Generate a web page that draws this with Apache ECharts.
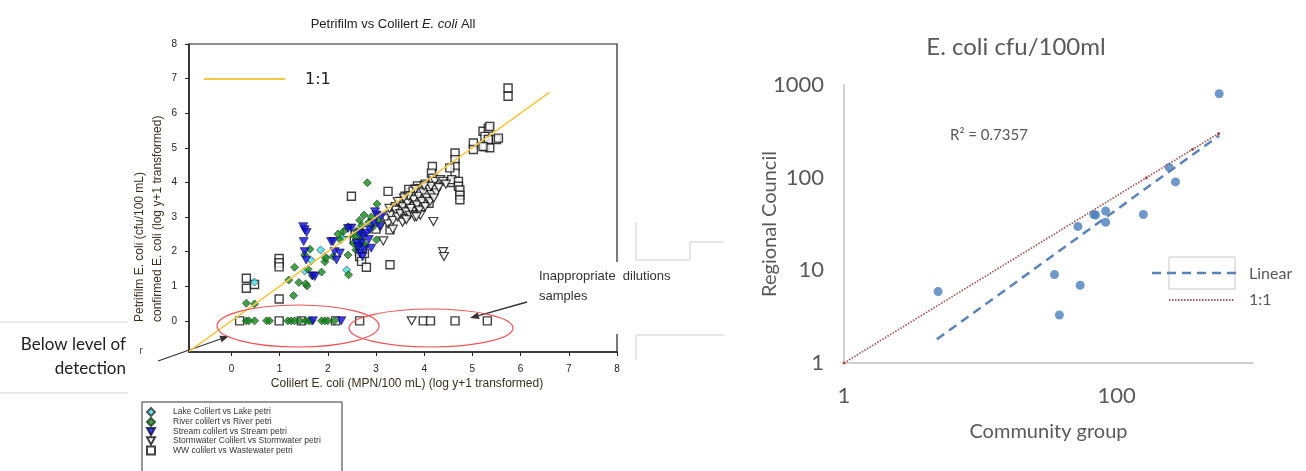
<!DOCTYPE html>
<html>
<head>
<meta charset="utf-8">
<script src="https://cdn.jsdelivr.net/npm/echarts@6/dist/echarts.min.js"></script>
<style>
  html, body { margin: 0; padding: 0; background: #fff; }
  #chart { width: 1306px; height: 471px; }
</style>
</head>
<body>
<div id="chart"></div>
<script>
// ---- left panel: Petrifilm vs Colilert (log y+1) ----
const lakePts = [
  [0.48, 1.12], [1.52, 1.44], [1.66, 1.74], [1.85, 2.05], [1.94, 1.86],
  [2.39, 1.47], [2.66, 2.48], [2.30, 2.40]
];
const riverPts = [
  [0.31, 0.51], [0.48, 0.49], [1.19, 1.18], [1.29, 0.73], [1.31, 1.55], [1.40, 1.11],
  [1.57, 1.01], [1.54, 1.07], [1.59, 1.49], [1.52, 1.91], [1.63, 2.07], [1.68, 1.30],
  [1.87, 1.41], [1.94, 1.71], [1.96, 1.81], [2.11, 1.86], [2.21, 2.51], [2.32, 2.58],
  [2.26, 2.34], [2.42, 1.90], [2.43, 1.33], [2.42, 2.72], [2.53, 2.24], [2.66, 2.91],
  [2.75, 3.06], [2.82, 3.99], [2.94, 2.72], [3.01, 2.34], [3.02, 3.38], [2.60, 2.60],
  [2.70, 2.75], [2.85, 2.85], [2.55, 2.45], [2.68, 2.35], [2.78, 2.20], [2.72, 2.55],
  [2.90, 3.00], [2.58, 2.05], [3.05, 2.90], [2.62, 2.15],
  [0.31, 0], [0.48, 0], [0.36, 0], [0.73, 0], [0.79, 0], [1.17, 0], [1.24, 0], [1.31, 0],
  [1.42, 0], [1.54, 0], [1.61, 0], [1.66, 0], [1.87, 0], [1.94, 0], [2.00, 0], [2.14, 0]
];
const streamPts = [
  [1.49, 2.72], [1.52, 2.63], [1.56, 2.55], [1.50, 2.29], [1.52, 2.00], [1.55, 1.76],
  [1.68, 1.30], [1.73, 1.28], [2.07, 2.29], [2.14, 2.00], [2.18, 1.76], [2.11, 2.29],
  [2.25, 1.96], [2.49, 2.68], [2.73, 2.44], [2.70, 2.25], [2.66, 1.96], [2.94, 2.82],
  [3.11, 3.01], [2.66, 2.53], [2.80, 2.53], [2.87, 2.63], [2.60, 2.24], [2.63, 2.14],
  [2.98, 3.15], [3.01, 3.06], [2.42, 2.67], [3.08, 2.72], [2.75, 2.05], [2.72, 1.85],
  [2.85, 2.35], [2.90, 2.10],
  [1.69, 0], [2.28, 0]
];
const stormPts = [
  [3.15, 2.31], [4.19, 2.87], [4.39, 2.00], [4.41, 1.86], [3.74, 0],
  [3.10, 2.75], [3.20, 2.95], [3.25, 2.80], [3.30, 3.05], [3.35, 2.90], [3.40, 3.20],
  [3.45, 3.00], [3.50, 3.10], [3.55, 3.30], [3.60, 2.95], [3.62, 3.15], [3.65, 3.40],
  [3.70, 3.05], [3.72, 3.25], [3.78, 3.50], [3.80, 3.00], [3.85, 3.35], [3.88, 3.60],
  [3.90, 3.20], [3.95, 3.45], [3.98, 3.70], [4.02, 3.30], [4.05, 3.55], [4.10, 3.80],
  [4.12, 3.45], [4.15, 3.65], [4.22, 4.03], [4.33, 4.08], [4.39, 4.03], [4.14, 3.89],
  [4.25, 3.70], [4.30, 3.85], [4.45, 3.95], [3.35, 2.65], [3.55, 2.85], [3.45, 3.45],
  [3.68, 3.60], [3.92, 3.05], [4.00, 3.90], [3.28, 3.25], [3.58, 3.55], [3.82, 3.80],
  [4.20, 3.55], [3.63, 2.92], [3.84, 3.01]
];
const wwPts = [
  [0.31, 1.23], [0.31, 0.94], [0.48, 1.05], [0.99, 1.80], [0.99, 1.68], [0.99, 1.56],
  [0.99, 0.63], [2.49, 3.60], [2.66, 2.00], [2.66, 1.86], [2.70, 1.72], [2.80, 1.55],
  [3.29, 1.62], [3.29, 2.63], [3.25, 3.74], [2.40, 2.55], [2.55, 2.35], [3.00, 2.65],
  [2.62, 2.50], [2.76, 1.95], [2.72, 2.10],
  [3.40, 3.30], [3.50, 3.45], [3.55, 3.20], [3.60, 3.60], [3.65, 3.35], [3.70, 3.50],
  [3.72, 3.70], [3.75, 3.40], [3.78, 3.60], [3.80, 3.80], [3.82, 3.30], [3.85, 3.55],
  [3.88, 3.70], [3.90, 3.45], [3.92, 3.85], [3.95, 3.60], [3.98, 3.75], [4.00, 3.50],
  [4.02, 3.95], [4.05, 3.65], [4.08, 3.80], [4.10, 3.40], [3.68, 3.80], [3.58, 3.45],
  [3.62, 3.25], [3.76, 3.20], [3.86, 3.90], [3.94, 3.30],
  [3.66, 3.55], [3.71, 3.62], [3.74, 3.30], [3.79, 3.45], [3.83, 3.66], [3.87, 3.40],
  [3.89, 3.82], [3.93, 3.52], [3.96, 3.68], [4.01, 3.62], [4.04, 3.85], [3.70, 3.38],
  [3.81, 3.55], [3.91, 3.75], [3.99, 3.40], [3.63, 3.48], [3.77, 3.75], [4.06, 3.72],
  [4.17, 4.46], [4.15, 4.27], [4.18, 4.12], [4.57, 4.00], [4.64, 4.85], [4.64, 4.66],
  [4.64, 4.46], [4.64, 4.27], [4.57, 4.08], [4.53, 4.42], [4.71, 4.03], [4.71, 3.89],
  [4.74, 3.78], [4.74, 3.63], [4.74, 3.50],
  [5.02, 5.14], [5.02, 4.95], [5.22, 5.48], [5.26, 5.33], [5.33, 5.57], [5.36, 5.62],
  [5.26, 5.04], [5.36, 5.00], [5.33, 5.24], [5.50, 5.24], [5.54, 5.28], [5.22, 5.04],
  [5.74, 6.73], [5.74, 6.49],
  [0.17, 0], [0.99, 0], [1.45, 0], [2.16, 0], [2.66, 0], [3.98, 0], [4.13, 0], [4.64, 0], [5.31, 0]
];
const oneToOneLeft = [[-0.88, -0.88], [6.6, 6.6]];
const leftTicks = [0, 1, 2, 3, 4, 5, 6, 7, 8];

// ---- right panel: E. coli cfu/100ml, log-log ----
const communityGroup = [565, 243, 270, 157, 70, 68, 83, 83, 52, 35, 54, 38, 4.9];
const regionalCouncil = [804, 129, 90, 40, 39.5, 40, 43.6, 33, 29.8, 9, 6.9, 3.3, 5.9];
const linearTrend = [[4.8, 1.8], [565, 285]];
const oneToOneRight = [[1, 1], [165, 100], [360, 202], [560, 300]];
const rightXTicks = [1, 100];
const rightYTicks = [1, 10, 100, 1000];

const ink = '#222';
const arialish = '"Liberation Sans", Arial, sans-serif';
const calibriish = 'Lato, "Open Sans", sans-serif';

function arrow(x1, y1, x2, y2) {
  const dx = x2 - x1, dy = y2 - y1;
  const len = Math.sqrt(dx * dx + dy * dy);
  const ux = dx / len, uy = dy / len;
  const bx = x2 - ux * 9, by = y2 - uy * 9;
  return [
    { type: 'line', shape: { x1: x1, y1: y1, x2: bx, y2: by }, style: { stroke: '#333', lineWidth: 1.3 } },
    { type: 'polygon', shape: { points: [[x2, y2], [bx - uy * 3.5, by + ux * 3.5], [bx + uy * 3.5, by - ux * 3.5]] },
      style: { fill: '#333' } }
  ];
}

const chart = echarts.init(document.getElementById('chart'));

const downTri = 'path://M0,0L10,0L5,9Z';

chart.setOption({
  animation: false,
  backgroundColor: '#fff',
  title: [
    {
      text: '{a|Petrifilm vs Colilert }{b|E. coli}{a| All}',
      left: 388, top: 13, textAlign: 'center',
      textStyle: {
        rich: {
          a: { fontFamily: arialish, fontSize: 13, color: ink, fontWeight: 'normal' },
          b: { fontFamily: arialish, fontSize: 13, color: ink, fontWeight: 'normal', fontStyle: 'italic' }
        }
      }
    },
    {
      text: 'E. coli cfu/100ml',
      left: 1011, top: 30, textAlign: 'center',
      textStyle: { fontFamily: calibriish, fontSize: 24, fontWeight: 'normal', color: '#595959' }
    }
  ],
  legend: {
    data: [
      'Lake Colilert vs Lake petri',
      'River colilert vs River petri',
      'Stream colilert vs Stream petri',
      'Stormwater Colilert vs Stormwater petri',
      'WW colilert vs Wastewater petri'
    ],
    orient: 'vertical',
    left: 146, top: 407, padding: 0, height: 80,
    itemWidth: 8, itemHeight: 8, itemGap: 0,
    textStyle: { fontSize: 8.5, fontFamily: arialish, color: '#333', padding: [0, 0, 0, 13], lineHeight: 8 },
    selectedMode: false
  },
  grid: [
    { left: 189, top: 44, width: 428, height: 308, show: true, borderColor: ink, borderWidth: 1.2, backgroundColor: 'transparent' },
    { left: 844, top: 85, width: 409, height: 278 }
  ],
  xAxis: [
    {
      gridIndex: 0, type: 'value', min: -0.88, max: 8,
      axisLine: { show: true, onZero: false, lineStyle: { color: ink, width: 1.5 } },
      axisTick: { show: true, customValues: leftTicks, length: 4, lineStyle: { color: ink } },
      axisLabel: { customValues: leftTicks, fontSize: 10, fontFamily: arialish, color: ink, margin: 12 },
      splitLine: { show: false }
    },
    {
      gridIndex: 1, type: 'log', logBase: 10, min: 1, max: 1000,
      axisLine: { show: true, onZero: false, lineStyle: { color: '#bfbfbf', width: 1.5 } },
      axisTick: { show: false },
      axisLabel: { customValues: rightXTicks, fontSize: 22, fontFamily: calibriish, color: '#595959', margin: 22,
        formatter: v => String(v) },
      splitLine: { show: false },
      name: 'Community group', nameLocation: 'middle', nameGap: 59, nameMoveOverlap: false,
      nameTextStyle: { fontSize: 20, fontFamily: calibriish, color: '#595959' }
    }
  ],
  yAxis: [
    {
      gridIndex: 0, type: 'value', min: -0.9, max: 8,
      axisLine: { show: true, onZero: false, lineStyle: { color: ink, width: 1.5 } },
      axisTick: { show: true, customValues: leftTicks, length: 4, lineStyle: { color: ink } },
      axisLabel: { customValues: leftTicks, fontSize: 10, fontFamily: arialish, color: ink, margin: 12 },
      splitLine: { show: false }
    },
    {
      gridIndex: 1, type: 'log', logBase: 10, min: 1, max: 1000,
      axisLine: { show: true, onZero: false, lineStyle: { color: '#bfbfbf', width: 1.5 } },
      axisTick: { show: false },
      axisLabel: { customValues: rightYTicks, fontSize: 22, fontFamily: calibriish, color: '#595959', margin: 20,
        formatter: v => String(v) },
      splitLine: { show: false },
      name: 'Regional Council', nameLocation: 'middle', nameGap: 64, nameMoveOverlap: false,
      nameTextStyle: { fontSize: 20, fontFamily: calibriish, color: '#595959' }
    }
  ],
  series: [
    {
      name: 'WW colilert vs Wastewater petri', type: 'scatter', xAxisIndex: 0, yAxisIndex: 0,
      data: wwPts, symbol: 'rect', symbolSize: 8,
      itemStyle: { color: '#fff', borderColor: '#111', borderWidth: 1.4 }
    },
    {
      name: 'Stormwater Colilert vs Stormwater petri', type: 'scatter', xAxisIndex: 0, yAxisIndex: 0,
      data: stormPts, symbol: downTri, symbolSize: [9, 8],
      itemStyle: { color: '#fff', borderColor: '#111', borderWidth: 1.2 }
    },
    {
      name: 'Lake Colilert vs Lake petri', type: 'scatter', xAxisIndex: 0, yAxisIndex: 0,
      data: lakePts, symbol: 'diamond', symbolSize: 8,
      itemStyle: { color: '#3fe0e6', borderColor: '#333', borderWidth: 0.8 }
    },
    {
      name: 'River colilert vs River petri', type: 'scatter', xAxisIndex: 0, yAxisIndex: 0,
      data: riverPts, symbol: 'diamond', symbolSize: 8,
      itemStyle: { color: '#138a1b', borderColor: '#1a3a1a', borderWidth: 0.8 }
    },
    {
      name: 'Stream colilert vs Stream petri', type: 'scatter', xAxisIndex: 0, yAxisIndex: 0,
      data: streamPts, symbol: downTri, symbolSize: [9, 8],
      itemStyle: { color: '#1010e6', borderColor: '#101040', borderWidth: 0.8 }
    },
    {
      name: 'oneToOneLeft', type: 'line', xAxisIndex: 0, yAxisIndex: 0,
      data: oneToOneLeft, showSymbol: false, silent: true,
      lineStyle: { color: '#f6c744', width: 1.6 }
    },
    {
      name: '1:1', type: 'line', xAxisIndex: 1, yAxisIndex: 1,
      data: oneToOneRight, symbol: 'circle', symbolSize: 3,
      itemStyle: { color: '#b04a4a' },
      lineStyle: { color: '#a65b5b', width: 1.8, type: [1.5, 1.5] }
    },
    {
      name: 'Linear', type: 'line', xAxisIndex: 1, yAxisIndex: 1,
      data: linearTrend, showSymbol: false,
      lineStyle: { color: '#5b83b7', width: 2.5, type: [9, 6] }
    },
    {
      name: 'Regional vs Community', type: 'scatter', xAxisIndex: 1, yAxisIndex: 1,
      data: communityGroup.map((v, i) => [v, regionalCouncil[i]]),
      symbol: 'circle', symbolSize: 9,
      itemStyle: { color: '#4a7ebb' }
    }
  ],
  graphic: {
    elements: [
      // left y-axis title (two lines, start aligned)
      { type: 'text', x: 140, y: 322, rotation: Math.PI / 2,
        style: { text: 'Petrifilm E. coli (cfu/100 mL)', fontSize: 12, fontFamily: arialish, fill: '#3a3020', align: 'left', verticalAlign: 'middle' } },
      { type: 'text', x: 158, y: 322, rotation: Math.PI / 2,
        style: { text: 'confirmed E. coli (log y+1 transformed)', fontSize: 12, fontFamily: arialish, fill: '#3a3020', align: 'left', verticalAlign: 'middle' } },
      { type: 'text', x: 407, y: 384,
        style: { text: 'Colilert E. coli (MPN/100 mL) (log y+1 transformed)', fontSize: 12, fontFamily: arialish, fill: '#3a3020', align: 'center', verticalAlign: 'middle' } },
      // in-plot 1:1 key
      { type: 'line', shape: { x1: 204, y1: 79, x2: 285, y2: 79 }, style: { stroke: '#f6c744', lineWidth: 2 } },
      { type: 'text', x: 305, y: 80, style: { text: '1:1', fontSize: 16, fontFamily: '"DejaVu Sans", sans-serif', fill: ink, align: 'left', verticalAlign: 'middle' } },
      // annotation ellipses
      { type: 'ellipse', shape: { cx: 298, cy: 326, rx: 81, ry: 21 }, style: { fill: null, stroke: '#ee5555', lineWidth: 1.2 }, z: 100 },
      { type: 'ellipse', shape: { cx: 431, cy: 328, rx: 82, ry: 19 }, style: { fill: null, stroke: '#ee5555', lineWidth: 1.2 }, z: 100 },
      // text box covering right border of left plot
      { type: 'rect', shape: { x: 533, y: 262, width: 103, height: 72 }, style: { fill: '#fff' }, z: 101 },
      { type: 'text', x: 539, y: 276, z: 102,
        style: { text: 'Inappropriate  dilutions', fontSize: 13, fontFamily: arialish, fill: '#333', align: 'left', verticalAlign: 'middle' } },
      { type: 'text', x: 539, y: 296, z: 102,
        style: { text: 'samples', fontSize: 13, fontFamily: arialish, fill: '#333', align: 'left', verticalAlign: 'middle' } },
      // leftover slide shape edges
      { type: 'polygon', z: 103, shape: { points: [[636, 230], [636, 260], [690, 260], [690, 242], [728, 242], [728, 230]] },
        style: { fill: '#fff', stroke: null } },
      { type: 'polyline', z: 104, shape: { points: [[636, 222], [636, 260], [690, 260], [690, 242], [724, 242]] },
        style: { stroke: '#cfcfcf', lineWidth: 1, fill: null } },
      { type: 'rect', z: 103, shape: { x: 636, y: 335, width: 90, height: 30 }, style: { fill: '#fff' } },
      { type: 'polyline', z: 104, shape: { points: [[636, 360], [636, 335], [724, 335]] },
        style: { stroke: '#cfcfcf', lineWidth: 1, fill: null } },
      // "Below level of detection" box
      { type: 'line', shape: { x1: 0, y1: 322, x2: 128, y2: 322 }, style: { stroke: '#d6d6d6', lineWidth: 1 } },
      { type: 'line', shape: { x1: 0, y1: 393, x2: 128, y2: 393 }, style: { stroke: '#d6d6d6', lineWidth: 1 } },
      { type: 'text', x: 126, y: 345, style: { text: 'Below level of', fontSize: 17, fontFamily: calibriish, fill: ink, align: 'right', verticalAlign: 'middle' } },
      { type: 'text', x: 126, y: 369, style: { text: 'detection', fontSize: 17, fontFamily: calibriish, fill: ink, align: 'right', verticalAlign: 'middle' } },
      { type: 'text', x: 141, y: 351, style: { text: 'r', fontSize: 11, fontFamily: arialish, fill: '#555', align: 'center', verticalAlign: 'middle' } },
      // legend frame
      { type: 'rect', shape: { x: 142, y: 402, width: 200, height: 80 }, style: { fill: null, stroke: '#333', lineWidth: 1 } },
      // right panel: R² and legend
      { type: 'text', x: 950, y: 135, style: { text: 'R² = 0.7357', fontSize: 15, fontFamily: calibriish, fill: '#595959', align: 'left', verticalAlign: 'middle' } },
      { type: 'rect', shape: { x: 1169, y: 257, width: 66, height: 32 }, style: { fill: null, stroke: '#c8c8c8', lineWidth: 1 } },
      { type: 'line', shape: { x1: 1152, y1: 273, x2: 1236, y2: 273 }, style: { stroke: '#5b83b7', lineWidth: 2.5, lineDash: [9, 6] } },
      { type: 'text', x: 1249, y: 274, style: { text: 'Linear', fontSize: 16, fontFamily: calibriish, fill: '#595959', align: 'left', verticalAlign: 'middle' } },
      { type: 'line', shape: { x1: 1169, y1: 300, x2: 1235, y2: 300 }, style: { stroke: '#a65b5b', lineWidth: 1.8, lineDash: [1.5, 1.5] } },
      { type: 'text', x: 1249, y: 300, style: { text: '1:1', fontSize: 16, fontFamily: calibriish, fill: '#595959', align: 'left', verticalAlign: 'middle' } }
    ].concat(arrow(158, 361, 229, 336), arrow(527, 302, 470, 318))
  }
});
</script>
</body>
</html>
